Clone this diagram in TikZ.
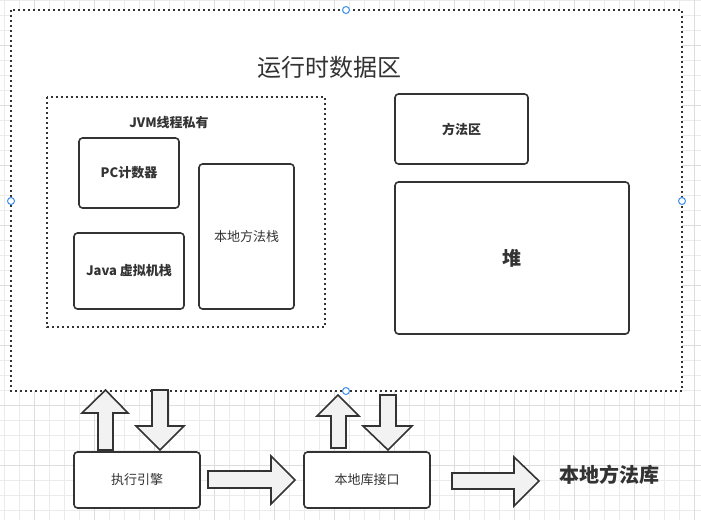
\documentclass[tikz,border=0pt]{standalone}
\usepackage{fontspec}
\setmainfont{Noto Sans CJK SC}
\definecolor{ink}{HTML}{333333}
\definecolor{gridc}{HTML}{EBEBEB}
\definecolor{gridd}{HTML}{DDDDDD}
\definecolor{afill}{HTML}{F2F2F2}
\definecolor{handle}{HTML}{3D8EF0}
\tikzset{
  box/.style={draw=ink, line width=1.6pt, rounded corners=3.5pt, fill=white, text=ink, inner sep=0pt},
  dotbox/.style={draw=ink, line width=2pt, dash pattern=on 2pt off 3pt},
  blockarrow/.style={draw=ink, line width=1.6pt, fill=afill, line join=miter},
  lbl/.style={text=ink, inner sep=0pt},
  hnd/.style={draw=handle, line width=1pt, fill=white},
}
\newcommand{\fs}[1]{\fontsize{#1}{#1}\selectfont}
\begin{document}
\begin{tikzpicture}[x=1pt, y=-1pt]
\useasboundingbox (0,0) rectangle (701,520);
\fill[white] (0,0) rectangle (701,520);
% grid
\foreach \x in {4,19,...,700} \draw[gridc, line width=0.8pt] (\x,0) -- (\x,520);
\foreach \y in {0,15,...,520} \draw[gridc, line width=0.8pt] (0,\y) -- (701,\y);
\foreach \x in {34,94,...,700} \draw[gridd, line width=0.8pt] (\x,0) -- (\x,520);
\foreach \y in {45,105,...,520} \draw[gridd, line width=0.8pt] (0,\y) -- (701,\y);
% outer runtime area
\fill[white] (11,10) rectangle (682,391);
\draw[dotbox] (11,10) rectangle (682,391);
\node[lbl, font=\fs{24}] (title) at (329,67) {运行时数据区};
% inner private area
\draw[dotbox] (47,97) rectangle (325,327);
\node[lbl, font=\fs{13}\bfseries] (jvm) at (169,123) {JVM线程私有};
\node[box, minimum width=100pt, minimum height=70pt, font=\fs{13}\bfseries] (pc) at (129,173) {PC计数器};
\node[box, minimum width=95pt, minimum height=145pt, font=\fs{13}] (nms) at (246.5,236.5) {本地方法栈};
\node[box, minimum width=110pt, minimum height=76pt, font=\fs{13}\bfseries] (jvs) at (129,271) {Java 虚拟机栈};
\node[box, minimum width=133pt, minimum height=70pt, font=\fs{13}\bfseries] (ma) at (461.5,129) {方法区};
\node[box, minimum width=234pt, minimum height=152pt, font=\fs{19}\bfseries] (heap) at (512,258) {堆};
% bottom
\node[box, minimum width=126pt, minimum height=56pt, font=\fs{13}] (exec) at (137,480) {执行引擎};
\node[box, minimum width=126pt, minimum height=56pt, font=\fs{13}] (nli) at (367,480) {本地库接口};
\node[lbl, font=\fs{20}\bfseries] (nml) at (609,475) {本地方法库};
% block arrows
\draw[blockarrow] (105.5,390) -- (128,413) -- (113,413) -- (113,450) -- (98,450) -- (98,413) -- (82,413) -- cycle;
\draw[blockarrow] (152,390) -- (168,390) -- (168,426) -- (184,426) -- (160,450) -- (136,426) -- (152,426) -- cycle;
\draw[blockarrow] (208,471) -- (271,471) -- (271,456) -- (295,480) -- (271,504) -- (271,488) -- (208,488) -- cycle;
\draw[blockarrow] (338,395) -- (359,416) -- (346,416) -- (346,448) -- (331,448) -- (331,416) -- (317,416) -- cycle;
\draw[blockarrow] (380,395) -- (396,395) -- (396,426) -- (412,426) -- (388,450) -- (363,426) -- (380,426) -- cycle;
\draw[blockarrow] (452,473) -- (514,473) -- (514,457) -- (539,481) -- (514,506) -- (514,489) -- (452,489) -- cycle;
% selection handles
\draw[hnd] (346,10) circle (3.5pt);
\draw[hnd] (11,201) circle (3.5pt);
\draw[hnd] (682,201) circle (3.5pt);
\draw[hnd] (346,391) circle (3.5pt);
\end{tikzpicture}
\end{document}
